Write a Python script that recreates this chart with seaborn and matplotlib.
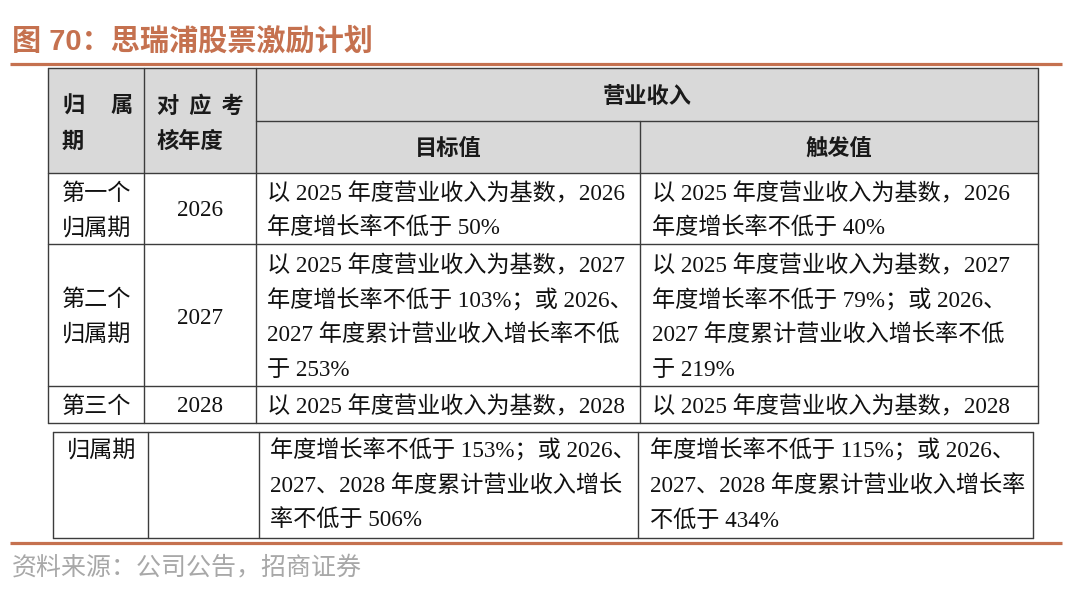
import matplotlib
matplotlib.use("Agg")
import matplotlib.pyplot as plt
import seaborn as sns

# table content
title = "图 70：思瑞浦股票激励计划"
source = "资料来源：公司公告，招商证券"

head_col1 = ["归", "属", "期"]
head_col2 = ["对  应  考", "核年度"]
head_group = "营业收入"
head_sub = ["目标值", "触发值"]

periods = [["第一个", "归属期"], ["第二个", "归属期"], ["第三个"], ["归属期"]]
years = ["2026", "2027", "2028", ""]
target = [
    ["以 2025 年度营业收入为基数，2026", "年度增长率不低于 50%"],
    ["以 2025 年度营业收入为基数，2027", "年度增长率不低于 103%；或 2026、",
     "2027 年度累计营业收入增长率不低", "于 253%"],
    ["以 2025 年度营业收入为基数，2028"],
    ["年度增长率不低于 153%；或 2026、", "2027、2028 年度累计营业收入增长",
     "率不低于 506%"],
]
trigger = [
    ["以 2025 年度营业收入为基数，2026", "年度增长率不低于 40%"],
    ["以 2025 年度营业收入为基数，2027", "年度增长率不低于 79%；或 2026、",
     "2027 年度累计营业收入增长率不低", "于 219%"],
    ["以 2025 年度营业收入为基数，2028"],
    ["年度增长率不低于 115%；或 2026、", "2027、2028 年度累计营业收入增长率",
     "不低于 434%"],
]

# layout (pixels)
W, H = 1080, 594
top_cols = [48, 144, 256, 640, 1038]
bot_cols = [53, 148, 259, 638, 1033]
top_rows = [68, 121, 173, 244, 386, 423]
bot_rows = [432, 538]
first_line = [194, 266, 407, 451]
period_y = [[194, 229], [300, 335], [407], [451]]
year_y = [211, 319, 407, 451]
step = 35

sns.set_theme(style="white")
plt.rcParams['font.family'] = ['Noto Sans CJK SC', 'DejaVu Sans']
body_font = ['Liberation Serif', 'Noto Sans CJK SC']
line_col = '#3c3c3c'
orange = '#C5714F'

fig = plt.figure(figsize=(W / 100, H / 100), dpi=100)
ax = fig.add_axes([0, 0, 1, 1])
ax.set_xlim(0, W)
ax.set_ylim(H, 0)
ax.axis('off')

# title + rules
ax.text(12, 41, title, color=orange, fontsize=21, fontweight='bold',
        family=['Liberation Sans', 'Noto Sans CJK SC'], va='center', ha='left')
ax.plot([10, 1062], [64, 64], color=orange, lw=2.3, solid_capstyle='butt')
ax.plot([10, 1062], [543, 543], color=orange, lw=2.3, solid_capstyle='butt')
ax.text(12, 567, source, color='#A8A8A8', fontsize=18, va='center', ha='left')

# header background
ax.fill_between([top_cols[0], top_cols[-1]], top_rows[0], top_rows[2],
                color='#D9D9D9', lw=0, zorder=0)

# top box grid
kw = dict(color=line_col, lw=1.0, zorder=2)
for y in [top_rows[0], top_rows[2], top_rows[3], top_rows[4], top_rows[5]]:
    ax.plot([top_cols[0], top_cols[-1]], [y, y], **kw)
ax.plot([top_cols[2], top_cols[-1]], [top_rows[1], top_rows[1]], **kw)
for x in [top_cols[0], top_cols[1], top_cols[2], top_cols[4]]:
    ax.plot([x, x], [top_rows[0], top_rows[-1]], **kw)
ax.plot([top_cols[3], top_cols[3]], [top_rows[1], top_rows[-1]], **kw)

# bottom box grid
for y in bot_rows:
    ax.plot([bot_cols[0], bot_cols[-1]], [y, y], **kw)
for x in bot_cols:
    ax.plot([x, x], [bot_rows[0], bot_rows[1]], **kw)

# header text
hkw = dict(fontsize=16, fontweight='bold', color='#1a1a1a', va='center')
ax.text(62, 106, head_col1[0], ha='left', **hkw)
ax.text(110, 106, head_col1[1], ha='left', **hkw)
ax.text(62, 141, head_col1[2], ha='left', **hkw)
ax.text(157, 106, head_col2[0], ha='left', **hkw)
ax.text(157, 141, head_col2[1], ha='left', **hkw)
ax.text((top_cols[2] + top_cols[4]) / 2, 97, head_group, ha='center', **hkw)
ax.text((top_cols[2] + top_cols[3]) / 2, 148, head_sub[0], ha='center', **hkw)
ax.text((top_cols[3] + top_cols[4]) / 2, 148, head_sub[1], ha='center', **hkw)

# body text
bkw = dict(fontsize=16.7, color='#111111', va='center', family=body_font)
for i in range(4):
    cols = top_cols if i < 3 else bot_cols
    px = 62 if i < 3 else 67
    for lab, y in zip(periods[i], period_y[i]):
        ax.text(px, y, lab, ha='left', **bkw)
    ax.text((cols[1] + cols[2]) / 2, year_y[i], years[i], ha='center', **bkw)
    for k, line in enumerate(target[i]):
        ax.text(cols[2] + 11, first_line[i] + k * step, line, ha='left', **bkw)
    for k, line in enumerate(trigger[i]):
        ax.text(cols[3] + 12, first_line[i] + k * step, line, ha='left', **bkw)

fig.savefig("out.png", dpi=100)
